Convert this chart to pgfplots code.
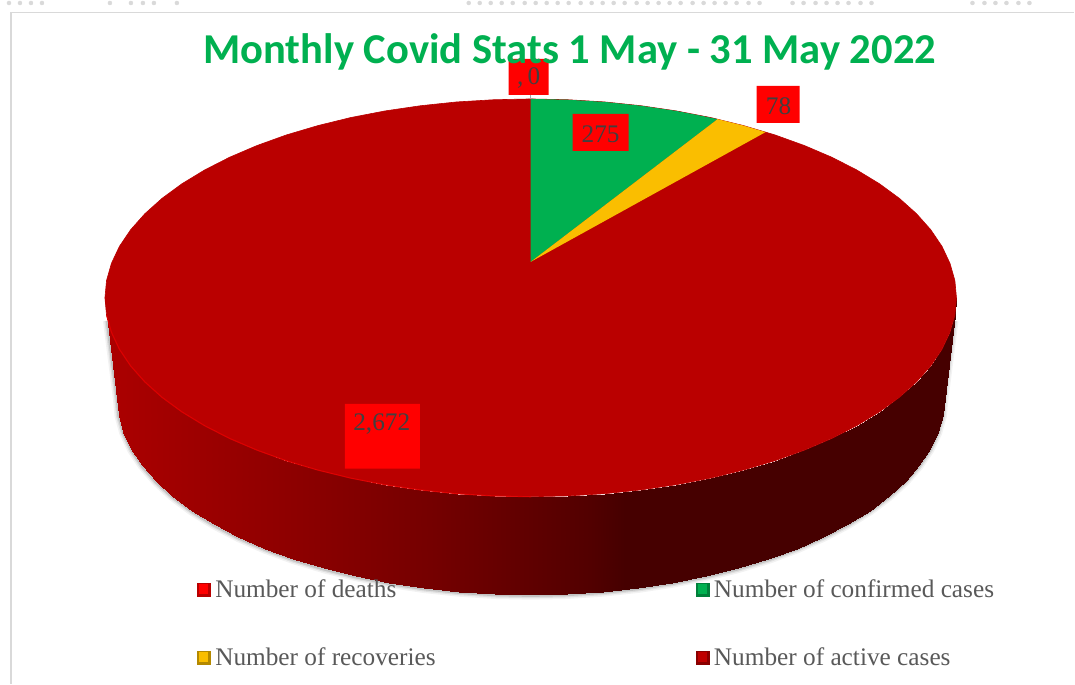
\documentclass[border=0pt]{standalone}
\usepackage{pgfplots}
\usepackage{pgfplotstable}
\usepackage{fontspec}
\pgfplotsset{compat=1.18}
\setmainfont{Liberation Serif}
\newfontfamily\carlito{Carlito}
\definecolor{pieRed}{RGB}{186,0,0}
\definecolor{pieGreen}{RGB}{0,176,80}
\definecolor{pieYellow}{RGB}{250,190,0}
\definecolor{frameGrey}{RGB}{217,217,217}
\definecolor{lblGrey}{RGB}{64,64,64}
\definecolor{legGrey}{RGB}{89,89,89}

% Top face of the pie, projected as an ellipse (pixels of the picture)
\pgfplotstableread{
x y
105 298
106.6 280.7
111.5 263.5
119.5 246.5
130.7 229.9
144.9 213.9
162.1 198.5
182 183.9
204.7 170.1
229.8 157.3
257.2 145.6
286.6 135
318 125.7
351 117.6
385.3 111
420.7 105.8
457 102
493.9 99.8
531 99
568.1 99.8
605 102
641.3 105.8
676.7 111
711 117.6
744 125.7
775.4 135
804.8 145.6
832.2 157.3
857.3 170.1
880 183.9
899.9 198.5
917.1 213.9
931.3 229.9
942.5 246.5
950.5 263.5
955.4 280.7
957 298
955.4 315.3
950.5 332.5
942.5 349.5
931.3 366.1
917.1 382.1
899.9 397.5
880 412.1
857.3 425.9
832.2 438.7
804.8 450.4
775.4 461
744 470.3
711 478.4
676.7 485
641.3 490.2
605 494
568.1 496.2
531 497
493.9 496.2
457 494
420.7 490.2
385.3 485
351 478.4
318 470.3
286.6 461
257.2 450.4
229.8 438.7
204.7 425.9
182 412.1
162.1 397.5
144.9 382.1
130.7 366.1
119.5 349.5
111.5 332.5
106.6 315.3
105 298
}\topface

% Side wall: each pair is a rim point and the floor point under it
\pgfplotstableread{
x y
105 298
117 398
106.6 315.3
118.6 415.2
111.5 332.5
123.3 432.2
119.5 349.5
131.1 449
130.7 366.1
142 465.4
144.9 382.1
155.8 481.3
162.1 397.5
172.5 496.5
182 412.1
191.9 511
204.7 425.9
213.9 524.6
229.8 438.7
238.3 537.3
257.2 450.4
264.9 548.9
286.6 461
293.5 559.4
318 470.3
324 568.6
351 478.4
356 576.5
385.3 485
389.4 583.1
420.7 490.2
423.9 588.3
457 494
459.1 592
493.9 496.2
494.9 594.3
531 497
531 595
568.1 496.2
567.1 594.3
605 494
602.9 592
641.3 490.2
638.1 588.3
676.7 485
672.6 583.1
711 478.4
706 576.5
744 470.3
738 568.6
775.4 461
768.5 559.4
804.8 450.4
797.1 548.9
832.2 438.7
823.7 537.3
857.3 425.9
848.1 524.6
880 412.1
870.1 511
899.9 397.5
889.5 496.5
917.1 382.1
906.2 481.3
931.3 366.1
920 465.4
942.5 349.5
930.9 449
950.5 332.5
938.7 432.2
955.4 315.3
943.4 415.2
957 298
945 398
}\sidewall

% Outline of the floor, for the soft shadow
\pgfplotstableread{
x y
107 320
117 398
118.6 415.2
123.3 432.2
131.1 449
142 465.4
155.8 481.3
172.5 496.5
191.9 511
213.9 524.6
238.3 537.3
264.9 548.9
293.5 559.4
324 568.6
356 576.5
389.4 583.1
423.9 588.3
459.1 592
494.9 594.3
531 595
567.1 594.3
602.9 592
638.1 588.3
672.6 583.1
706 576.5
738 568.6
768.5 559.4
797.1 548.9
823.7 537.3
848.1 524.6
870.1 511
889.5 496.5
906.2 481.3
920 465.4
930.9 449
938.7 432.2
943.4 415.2
945 398
955 320
}\floorline

% Lit rim on the near-left edge
\pgfplotstableread{
x y
106.6 315.3
111.5 332.5
119.5 349.5
130.7 366.1
144.9 382.1
162.1 397.5
182 412.1
204.7 425.9
229.8 438.7
257.2 450.4
286.6 461
318 470.3
351 478.4
385.3 485
420.7 490.2
457 494
493.9 496.2
531 497
}\rimline

\begin{document}
\begin{tikzpicture}
\begin{axis}[
  scale only axis, width=1075pt, height=684pt,
  xmin=0, xmax=1075, ymin=0, ymax=684, y dir=reverse,
  hide axis, clip=false,
  colormap={side}{rgb255(105)=(172,0,0) rgb255(300)=(140,0,0) rgb255(430)=(117,0,0) rgb255(590)=(82,0,0) rgb255(625)=(70,0,0) rgb255(957)=(70,0,0)},
  point meta min=105, point meta max=957,
  legend columns=2,
  legend cell align=left,
  legend style={at={(axis cs:197,578)}, anchor=north west, draw=none, fill=none,
    font=\fontsize{25.3}{29}\selectfont, text=legGrey, inner sep=0pt, outer sep=0pt,
    row sep=45pt,
    /tikz/every even column/.append style={column sep=258pt}},
  lg/.style={legend image code/.code={
    \fill[#1!72!black] (0pt,-6.5pt) rectangle (13pt,6.5pt);
    \fill[#1] (2.5pt,-4pt) rectangle (10.5pt,5pt);
    \path (16pt,0pt);}},
]
% page area
\addplot[forget plot, no marks, fill=white, draw=none] coordinates {(0,0) (1075,0) (1075,684) (0,684) (0,0)};
% frame of the page behind the chart and its faint dots
\addplot[forget plot, draw=frameGrey, line width=1.2pt] coordinates {(11,684) (11,12.5) (1075,12.5)};
\addplot[forget plot, only marks, mark=*, mark size=2pt, color=frameGrey] coordinates {
 (9,3)(20,3)(31,3)(42,3)(110,3)(131,3)(143,3)(154,3)(177,3)
 (469,3)(480,3)(491,3)(502,3)(513,3)(525,3)(536,3)(547,3)(558,3)(569,3)(581,3)(592,3)(603,3)(614,3)(625,3)(637,3)(648,3)(659,3)(670,3)(681,3)(693,3)(704,3)(715,3)(726,3)(737,3)(749,3)(760,3)
 (793,3)(804,3)(816,3)(827,3)(838,3)(849,3)(861,3)(872,3)
 (973,3)(985,3)(996,3)(1007,3)(1019,3)(1030,3)};
% soft shadow
\addplot[forget plot, no marks, draw=black, opacity=.05, line width=8pt, yshift=-1pt] table[x=x,y=y] {\floorline};
\addplot[forget plot, no marks, draw=black, opacity=.08, line width=5pt, yshift=-1pt] table[x=x,y=y] {\floorline};
\addplot[forget plot, no marks, draw=black, opacity=.12, line width=2.5pt, yshift=-1pt] table[x=x,y=y] {\floorline};
% side wall
\addplot[forget plot, surf, shader=interp, mesh/rows=37, mesh/cols=2, point meta=x] table[x=x,y=y] {\sidewall};
% top face
\addplot[forget plot, no marks, fill=pieRed, draw=pieRed, line width=.6pt] table[x=x,y=y] {\topface};
\addplot[forget plot, no marks, draw=red!90!black, line width=1.1pt, opacity=.8] table[x=x,y=y] {\rimline};
% green slice
\addplot[forget plot, no marks, fill=pieGreen, draw=none] coordinates {(531,262) (531,99) (568.1,99.8) (605,102) (641.3,105.8) (676.7,111) (700,115.5) (718,119.2) (531,262)};
% yellow slice
\addplot[forget plot, no marks, fill=pieYellow, draw=none] coordinates {(531,262) (718,119.2) (744,125.7) (766,132.2) (531,262)};
% leader line and label boxes
\addplot[forget plot, no marks, draw=gray!70, line width=.8pt] coordinates {(531,95) (531,99)};
\addplot[forget plot, no marks, fill=red, draw=none] coordinates {(509,59) (549,59) (549,95) (509,95) (509,59)};
\addplot[forget plot, no marks, fill=red, draw=none] coordinates {(573,114) (629,114) (629,151) (573,151) (573,114)};
\addplot[forget plot, no marks, fill=red, draw=none] coordinates {(757,86) (800,86) (800,123) (757,123) (757,86)};
\addplot[forget plot, no marks, fill=red, draw=none] coordinates {(345,404) (420,404) (420,469) (345,469) (345,404)};
\node[font=\fontsize{25.3}{28}\selectfont, text=lblGrey] at (axis cs:529,78) {,\,0};
\node[font=\fontsize{25.3}{28}\selectfont, text=lblGrey] at (axis cs:601,134) {275};
\node[font=\fontsize{25.3}{28}\selectfont, text=lblGrey] at (axis cs:779,106) {78};
\node[font=\fontsize{25.3}{28}\selectfont, text=lblGrey] at (axis cs:382,424) {2,672};
% title
\node[font=\carlito\bfseries\fontsize{42.6}{46}\selectfont, text=pieGreen] at (axis cs:570,52) {Monthly Covid Stats 1 May - 31 May 2022};
% legend
\addlegendimage{lg=red}
\addlegendentry{Number of deaths}
\addlegendimage{lg=pieGreen}
\addlegendentry{Number of confirmed cases}
\addlegendimage{lg=pieYellow}
\addlegendentry{Number of recoveries}
\addlegendimage{lg=red!75!black}
\addlegendentry{Number of active cases}
\end{axis}
\end{tikzpicture}
\end{document}
